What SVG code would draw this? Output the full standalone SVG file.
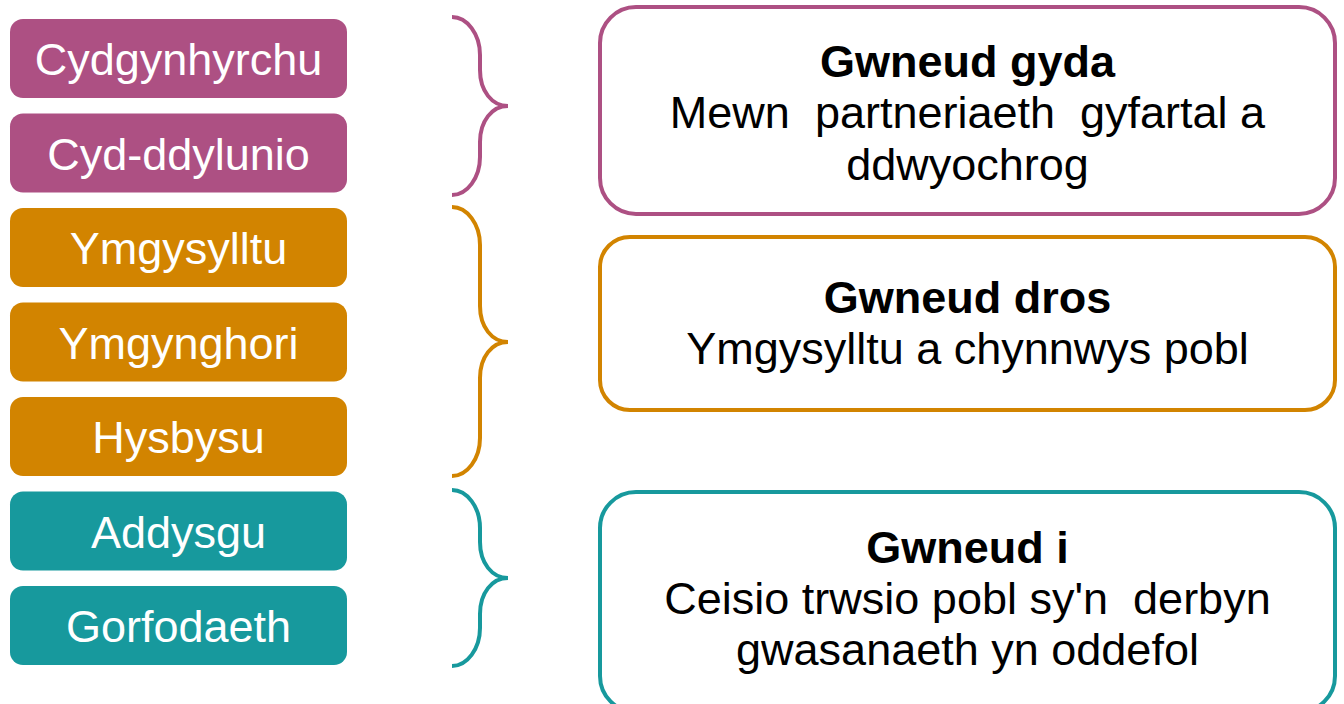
<svg xmlns="http://www.w3.org/2000/svg" width="1344" height="704" viewBox="0 0 1344 704">
<style>
text{font-family:"Liberation Sans",Arial,sans-serif;font-size:45px;text-anchor:middle}
.lbl{fill:#ffffff}
.b{font-weight:bold;fill:#000}
.t{fill:#000}
.pur{fill:#AD5083}
.ora{fill:#D28400}
.tea{fill:#17999D}
.brace{fill:none;stroke-width:4;stroke-linecap:butt}
.box{fill:#ffffff;stroke-width:4}
</style>
<rect width="1344" height="704" fill="#ffffff"/>
<g id="n-cydgynhyrchu"><rect class="pur" x="10" y="19" width="337" height="79" rx="13"/><text class="lbl" x="178.5" y="75">Cydgynhyrchu</text></g>
<g id="n-cyd-ddylunio"><rect class="pur" x="10" y="113.5" width="337" height="79" rx="13"/><text class="lbl" x="178.5" y="169.5">Cyd-ddylunio</text></g>
<g id="n-ymgysylltu"><rect class="ora" x="10" y="208" width="337" height="79" rx="13"/><text class="lbl" x="178.5" y="264">Ymgysylltu</text></g>
<g id="n-ymgynghori"><rect class="ora" x="10" y="302.5" width="337" height="79" rx="13"/><text class="lbl" x="178.5" y="358.5">Ymgynghori</text></g>
<g id="n-hysbysu"><rect class="ora" x="10" y="397" width="337" height="79" rx="13"/><text class="lbl" x="178.5" y="453">Hysbysu</text></g>
<g id="n-addysgu"><rect class="tea" x="10" y="491.5" width="337" height="79" rx="13"/><text class="lbl" x="178.5" y="547.5">Addysgu</text></g>
<g id="n-gorfodaeth"><rect class="tea" x="10" y="586" width="337" height="79" rx="13"/><text class="lbl" x="178.5" y="642">Gorfodaeth</text></g>
<g id="connectors">
<path class="brace" stroke="#AD5083" d="M452,17 C467,17 480,34 480,55 L480,70 C480,91 492,106 508,106 C492,106 480,121 480,142 L480,157 C480,178 467,195 452,195"/>
<path class="brace" stroke="#D28400" d="M452,207 C467,207 480,224 480,245 L480,306 C480,327 492,342 508,342 C492,342 480,357 480,378 L480,438 C480,459 467,476 452,476"/>
<path class="brace" stroke="#17999D" d="M452,490 C467,490 480,507 480,528 L480,542 C480,563 492,578 508,578 C492,578 480,593 480,614 L480,628 C480,649 467,666 452,666"/>
</g>
<g id="n-gwneud-gyda"><rect class="box" stroke="#AD5083" x="600" y="7" width="735" height="207" rx="36"/>
<text class="b" x="967.5" y="77">Gwneud gyda</text>
<text class="t" x="967.5" y="128" xml:space="preserve">Mewn  partneriaeth  gyfartal a</text>
<text class="t" x="967.5" y="180">ddwyochrog</text></g>
<g id="n-gwneud-dros"><rect class="box" stroke="#D28400" x="600" y="237" width="735" height="173" rx="30"/>
<text class="b" x="967.5" y="313">Gwneud dros</text>
<text class="t" x="967.5" y="364">Ymgysylltu a chynnwys pobl</text></g>
<g id="n-gwneud-i"><rect class="box" stroke="#17999D" x="600" y="492" width="735" height="220" rx="36"/>
<text class="b" x="967.5" y="563">Gwneud i</text>
<text class="t" x="967.5" y="614" xml:space="preserve">Ceisio trwsio pobl sy'n  derbyn</text>
<text class="t" x="967.5" y="665">gwasanaeth yn oddefol</text></g>
</svg>
